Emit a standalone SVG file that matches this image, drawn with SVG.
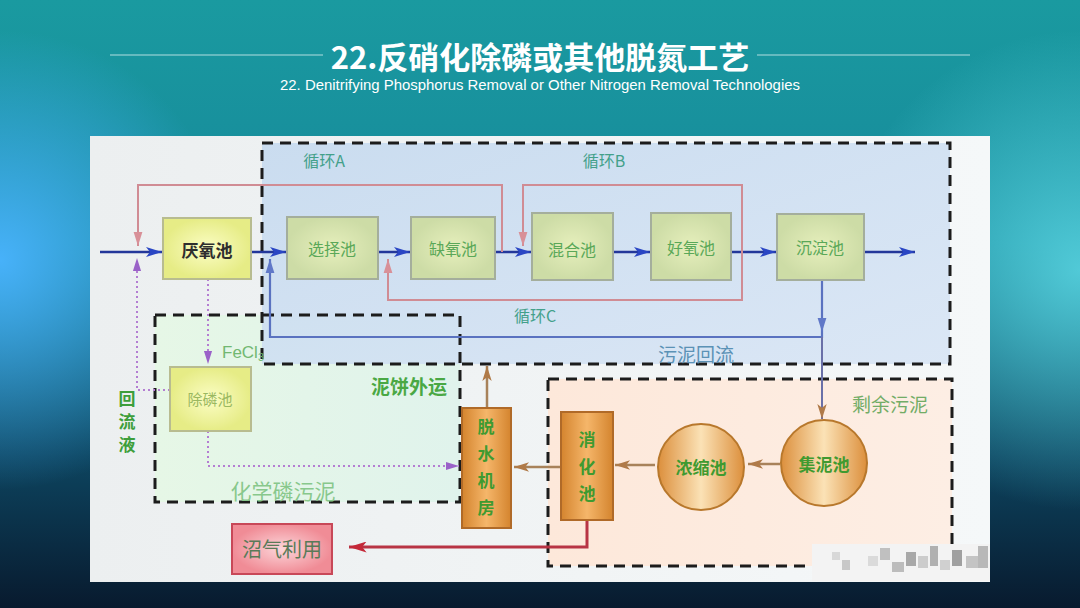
<svg xmlns="http://www.w3.org/2000/svg" width="1080" height="608" viewBox="0 0 1080 608">
<defs>
<linearGradient id="bg" x1="0" y1="0" x2="0" y2="1">
<stop offset="0" stop-color="#1a9aa0"/><stop offset="0.4" stop-color="#16889a"/><stop offset="0.75" stop-color="#0d4560"/><stop offset="1" stop-color="#081a2e"/>
</linearGradient>
<radialGradient id="glowL" cx="0" cy="260" r="230" gradientUnits="userSpaceOnUse">
<stop offset="0" stop-color="#4ab4ff" stop-opacity="0.95"/><stop offset="1" stop-color="#4ab4ff" stop-opacity="0"/>
</radialGradient>
<radialGradient id="glowR" cx="1080" cy="270" r="240" gradientUnits="userSpaceOnUse">
<stop offset="0" stop-color="#60dce8" stop-opacity="0.8"/><stop offset="1" stop-color="#60dce8" stop-opacity="0"/>
</radialGradient>
<linearGradient id="panel" x1="0" y1="0" x2="1" y2="0">
<stop offset="0" stop-color="#eceff0"/><stop offset="1" stop-color="#f5f8f9"/>
</linearGradient>
<linearGradient id="blueReg" x1="0" y1="0" x2="1" y2="1">
<stop offset="0" stop-color="#c6daef"/><stop offset="1" stop-color="#d8e5f5"/>
</linearGradient>
<linearGradient id="greenReg" x1="0" y1="0" x2="1" y2="0">
<stop offset="0" stop-color="#e6f7e6"/><stop offset="1" stop-color="#e0f3ec"/>
</linearGradient>
<linearGradient id="orgReg" x1="0" y1="0" x2="1" y2="0">
<stop offset="0" stop-color="#fde8da"/><stop offset="1" stop-color="#fdeee4"/>
</linearGradient>
<radialGradient id="gYel"><stop offset="0" stop-color="#fbfdc4"/><stop offset="1" stop-color="#e6ec86"/></radialGradient>
<radialGradient id="gBox"><stop offset="0" stop-color="#e6efbc"/><stop offset="1" stop-color="#cddca6"/></radialGradient>
<linearGradient id="gOrg" x1="0" y1="0" x2="1" y2="0">
<stop offset="0" stop-color="#d4842e"/><stop offset="0.5" stop-color="#f5b66a"/><stop offset="1" stop-color="#d4842e"/>
</linearGradient>
<linearGradient id="gCir" x1="0" y1="0" x2="1" y2="0">
<stop offset="0" stop-color="#dc8f3c"/><stop offset="0.5" stop-color="#fbe2b6"/><stop offset="1" stop-color="#dc8f3c"/>
</linearGradient>
<radialGradient id="gPink"><stop offset="0" stop-color="#fcd6da"/><stop offset="1" stop-color="#f08c96"/></radialGradient>
<marker id="mB" viewBox="0 0 16 10" refX="16" refY="5" markerWidth="16" markerHeight="10" markerUnits="userSpaceOnUse" orient="auto"><path d="M0,0 L16,5 L0,10 L4,5 z" fill="#2a46c4"/></marker>
<marker id="mP" viewBox="0 0 16 10" refX="16" refY="5" markerWidth="14" markerHeight="10" markerUnits="userSpaceOnUse" orient="auto"><path d="M0,0 L16,5 L0,10 z" fill="#d89098"/></marker>
<marker id="mG" viewBox="0 0 16 10" refX="16" refY="5" markerWidth="14" markerHeight="10" markerUnits="userSpaceOnUse" orient="auto"><path d="M0,0 L16,5 L0,10 z" fill="#6078c8"/></marker>
<marker id="mV" viewBox="0 0 16 10" refX="16" refY="5" markerWidth="13" markerHeight="10" markerUnits="userSpaceOnUse" orient="auto"><path d="M0,0 L16,5 L0,10 z" fill="#9a62c8"/></marker>
<marker id="mBr" viewBox="0 0 16 10" refX="16" refY="5" markerWidth="15" markerHeight="10" markerUnits="userSpaceOnUse" orient="auto"><path d="M0,0 L16,5 L0,10 L4,5 z" fill="#b07a48"/></marker>
<marker id="mR" viewBox="0 0 16 10" refX="16" refY="5" markerWidth="18" markerHeight="11" markerUnits="userSpaceOnUse" orient="auto"><path d="M0,0 L16,5 L0,10 L4,5 z" fill="#c42838"/></marker>
<style>
.dash{fill:none;stroke:#1c1c1c;stroke-width:3;stroke-dasharray:11 7}
.nb{fill:url(#gBox);stroke:#a4ae9c;stroke-width:2}
.ny{fill:url(#gYel);stroke:#b8bc90;stroke-width:2}
.no{fill:url(#gOrg);stroke:#b06a28;stroke-width:2}
.nc{fill:url(#gCir);stroke:#b8782c;stroke-width:2}
.t{font-family:"Noto Sans CJK SC","Noto Sans",sans-serif;text-anchor:middle;dominant-baseline:central}
.tg{fill:#5aa858;font-size:16px}
.tv{fill:#3f9a30;font-size:17px;font-weight:bold}
.lbl{fill:#43a08a;font-size:16px}
.main{fill:none;stroke:#23379a;stroke-width:2.5;marker-end:url(#mB)}
.pink{fill:none;stroke:#d08c94;stroke-width:2;marker-end:url(#mP)}
.ret{fill:none;stroke:#5a72c0;stroke-width:2.2}
.dot{fill:none;stroke:#b47ed2;stroke-width:2;stroke-dasharray:2 3}
.brn{fill:none;stroke:#a8825a;stroke-width:2.5;marker-end:url(#mBr)}
</style>
</defs>

<!-- background -->
<rect width="1080" height="608" fill="url(#bg)"/>
<rect width="1080" height="608" fill="url(#glowL)"/>
<rect width="1080" height="608" fill="url(#glowR)"/>

<!-- title -->
<g id="title">
<line x1="110" y1="55" x2="323" y2="55" stroke="#d8f2f2" stroke-width="1" opacity="0.8"/>
<line x1="757" y1="55" x2="970" y2="55" stroke="#d8f2f2" stroke-width="1" opacity="0.8"/>
<text x="540" y="55" class="t" fill="#ffffff" font-size="31" font-weight="bold">22.反硝化除磷或其他脱氮工艺</text>
<text x="540" y="85" fill="#ffffff" font-family="'Liberation Sans',Arial,sans-serif" font-size="14" text-anchor="middle" dominant-baseline="central" textLength="520" lengthAdjust="spacingAndGlyphs">22. Denitrifying Phosphorus Removal or Other Nitrogen Removal Technologies</text>
</g>

<!-- panel -->
<rect x="90" y="136" width="900" height="446" fill="url(#panel)"/>

<!-- regions -->
<g id="regions">
<rect x="155" y="315" width="305" height="187" fill="url(#greenReg)"/>
<rect x="262" y="143" width="688" height="221" fill="url(#blueReg)" opacity="0.9"/>
<rect x="548" y="379" width="404" height="187" fill="url(#orgReg)"/>
<rect x="262" y="143" width="688" height="221" class="dash"/>
<rect x="155" y="315" width="305" height="187" class="dash"/>
<rect x="548" y="379" width="404" height="187" class="dash"/>
</g>

<!-- connectors -->
<g id="connectors">
<path class="main" d="M100,252 H162"/>
<path class="main" d="M251,252 H286"/>
<path class="main" d="M378,252 H410"/>
<path class="main" d="M495,252 H531"/>
<path class="main" d="M613,252 H650"/>
<path class="main" d="M731,252 H776"/>
<path class="main" d="M864,252 H915"/>
<path class="pink" d="M502,252 V185 H138 V246"/>
<path class="pink" d="M742,252 V185 H523 V246"/>
<path class="pink" d="M742,252 V300 H388 V259"/>
<path class="ret" d="M822,280 V332" marker-end="url(#mG)"/>
<path class="ret" d="M822,332 V337 H270 V259" marker-end="url(#mG)"/>
<path fill="none" stroke="#6a70a8" stroke-width="2" d="M822,337 V419" marker-end="url(#mBr)"/>
<path class="dot" d="M208,279 V364" marker-end="url(#mV)"/>
<path class="dot" d="M208,431 V466 H459" marker-end="url(#mV)"/>
<path class="dot" d="M170,390 H137 V258" marker-end="url(#mV)"/>
<path class="brn" d="M487,408 V366"/>
<path class="brn" d="M561,467 H514"/>
<path class="brn" d="M655,465 H615"/>
<path class="brn" d="M780,464 H748"/>
<path fill="none" stroke="#b83444" stroke-width="3" d="M587,520 V547 H349" marker-end="url(#mR)"/>
</g>

<!-- nodes -->
<g id="n-yanyang"><rect x="163" y="218" width="88" height="61" class="ny"/><text x="207" y="249" class="t" fill="#2e2e2e" font-size="17" font-weight="bold">厌氧池</text></g>
<g id="n-xuanze"><rect x="287" y="217" width="91" height="62" class="nb"/><text x="332" y="248" class="t tg">选择池</text></g>
<g id="n-queyang"><rect x="411" y="217" width="84" height="62" class="nb"/><text x="453" y="248" class="t tg">缺氧池</text></g>
<g id="n-hunhe"><rect x="532" y="213" width="81" height="67" class="nb"/><text x="572" y="249" class="t tg">混合池</text></g>
<g id="n-haoyang"><rect x="651" y="213" width="80" height="67" class="nb"/><text x="691" y="247" class="t tg">好氧池</text></g>
<g id="n-chendian"><rect x="777" y="214" width="87" height="66" class="nb"/><text x="820" y="247" class="t tg">沉淀池</text></g>
<g id="n-chulin"><rect x="170" y="367" width="81" height="64" class="ny"/><text x="210" y="398" class="t" fill="#9ab860" font-size="15">除磷池</text></g>
<g id="n-tuoshui"><rect x="462" y="408" width="49" height="120" class="no"/>
<text x="486" y="425" class="t tv">脱</text><text x="486" y="452" class="t tv">水</text><text x="486" y="479" class="t tv">机</text><text x="486" y="506" class="t tv">房</text></g>
<g id="n-xiaohua"><rect x="561" y="412" width="52" height="108" class="no"/>
<text x="587" y="438" class="t tv">消</text><text x="587" y="465" class="t tv">化</text><text x="587" y="492" class="t tv">池</text></g>
<g id="n-nongsuo"><circle cx="701" cy="467" r="43" class="nc"/><text x="701" y="466" class="t tv" font-size="16">浓缩池</text></g>
<g id="n-jini"><circle cx="824" cy="463" r="43" class="nc"/><text x="824" y="463" class="t tv" font-size="16">集泥池</text></g>
<g id="n-zhaoqi"><rect x="232" y="524" width="100" height="50" fill="url(#gPink)" stroke="#c84858" stroke-width="2"/><text x="282" y="548" class="t" fill="#5a7a58" font-size="20">沼气利用</text></g>

<!-- labels -->
<g id="labels">
<text x="324" y="160" class="t lbl">循环A</text>
<text x="604" y="160" class="t lbl">循环B</text>
<text x="535" y="315" class="t lbl">循环C</text>
<text x="696" y="353" class="t" fill="#5b92b6" font-size="19">污泥回流</text>
<text x="890" y="403" class="t" fill="#72ac66" font-size="19">剩余污泥</text>
<text x="409" y="385" class="t" fill="#4aa844" font-size="19" font-weight="bold">泥饼外运</text>
<text x="283" y="490" class="t" fill="#88c88c" font-size="21">化学磷污泥</text>
<text x="222" y="352" fill="#72b872" font-family="'Liberation Sans',Arial,sans-serif" font-size="17" dominant-baseline="central">FeCl<tspan font-size="11" dy="5">3</tspan></text>
<text x="127" y="397" class="t" fill="#3d9e3a" font-size="17" font-weight="bold">回</text>
<text x="127" y="420" class="t" fill="#3d9e3a" font-size="17" font-weight="bold">流</text>
<text x="127" y="443" class="t" fill="#3d9e3a" font-size="17" font-weight="bold">液</text>
</g>

<!-- watermark mosaic -->
<g id="mosaic">
<rect x="812" y="544" width="178" height="37" fill="#f3f3f3"/>
<rect x="832" y="552" width="8" height="8" fill="#d8d8d8"/>
<rect x="842" y="560" width="8" height="10" fill="#c8c8c8"/>
<rect x="868" y="556" width="10" height="10" fill="#dadada"/>
<rect x="880" y="548" width="10" height="12" fill="#c0c0c0"/>
<rect x="892" y="562" width="12" height="10" fill="#bcbcbc"/>
<rect x="906" y="552" width="10" height="14" fill="#a8a8a8"/>
<rect x="918" y="556" width="10" height="12" fill="#cccccc"/>
<rect x="930" y="546" width="8" height="20" fill="#b0b0b0"/>
<rect x="940" y="560" width="10" height="10" fill="#d0d0d0"/>
<rect x="952" y="550" width="10" height="16" fill="#a0a0a0"/>
<rect x="966" y="556" width="12" height="12" fill="#c4c4c4"/>
<rect x="978" y="546" width="10" height="22" fill="#b8b8b8"/>
</g>
</svg>
